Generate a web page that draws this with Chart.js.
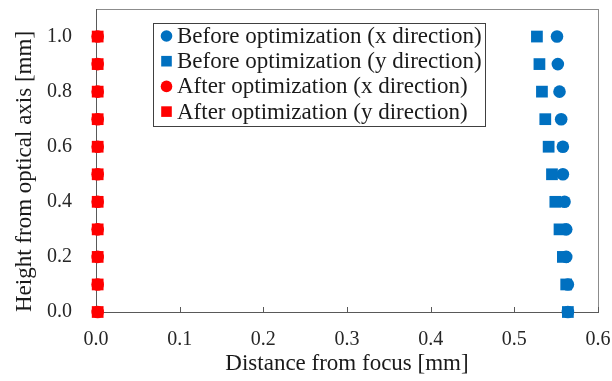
<!DOCTYPE html>
<html><head><meta charset="utf-8">
<script src="https://cdn.jsdelivr.net/npm/chart.js@4/dist/chart.umd.min.js"></script>
<style>html,body{margin:0;padding:0;background:#fff}#wrap{width:612px;height:381px}</style>
</head><body><div id="wrap"><canvas id="c" width="612" height="381"></canvas></div>
<script>
const heights = [0.0,0.1,0.2,0.3,0.4,0.5,0.6,0.7,0.8,0.9,1.0];
const beforeX = [0.564,0.564,0.562,0.562,0.560,0.558,0.558,0.556,0.554,0.552,0.551];
const beforeY = [0.564,0.562,0.558,0.554,0.549,0.545,0.541,0.537,0.533,0.530,0.527];
const afterX  = [0.002,0.002,0.002,0.002,0.002,0.002,0.002,0.002,0.002,0.002,0.002];
const afterY  = [0.002,0.002,0.002,0.002,0.002,0.002,0.002,0.002,0.002,0.002,0.002];
const xTicks = [0.0,0.1,0.2,0.3,0.4,0.5,0.6];
const yTicks = [0.0,0.2,0.4,0.6,0.8,1.0];
const seriesLabels = ['Before optimization (x direction)','Before optimization (y direction)','After optimization (x direction)','After optimization (y direction)'];
const seriesColors = ['#0070C0','#0070C0','#FF0000','#FF0000'];
const seriesStyles = ['circle','rect','circle','rect'];
const xTitle = 'Distance from focus [mm]';
const yTitle = 'Height from optical axis [mm]';

const FONT = "'Liberation Serif','Times New Roman',serif";
const pts = (xs) => xs.map((x,i)=>({x:x,y:heights[i]}));
const allSeries = [beforeX,beforeY,afterX,afterY];
const radii = {circle:6.3, rect:8.3};

const datasets = allSeries.map((s,i)=>({
  label: seriesLabels[i],
  data: pts(s),
  pointStyle: seriesStyles[i],
  pointRadius: radii[seriesStyles[i]],
  backgroundColor: seriesColors[i],
  borderColor: seriesColors[i],
  pointBorderWidth: 0,
  showLine: false,
  clip: false,
  order: 4-i
}));

const framePlugin = {
  id:'plotFrame',
  beforeDraw(chart){ },
  beforeDatasetsDraw(chart){
    const ctx = chart.ctx;
    try {
      const a = chart.chartArea, sx = chart.scales.x;
      const L = Math.round(a.left), R = Math.round(a.right), T = Math.round(a.top), B = Math.round(a.bottom);
      ctx.save();
      ctx.fillStyle = '#8c8c8c';
      ctx.fillRect(L, T, R-L+1, 1);
      ctx.fillRect(R, T, 1, B-T+1);
      ctx.fillStyle = '#595959';
      ctx.fillRect(L, T, 1, B-T+1);
      ctx.fillRect(L, B, R-L+1, 1);
      xTicks.forEach(v=>{
        const px = Math.round(sx.getPixelForValue(v));
        ctx.fillRect(px, B-5, 1, 5);
      });
      ctx.restore();
    } catch(e){}
  },
  afterDatasetsDraw(chart){ },
  afterDraw(chart){
    const ctx = chart.ctx;
    try {
      const L=153, T=23, R=485, B=126;
      ctx.save();
      ctx.fillStyle='#ffffff';
      ctx.fillRect(L+1,T+1,R-L-1,B-T-1);
      ctx.fillStyle='#404040';
      ctx.fillRect(L,T,R-L+1,1); ctx.fillRect(L,B,R-L+1,1);
      ctx.fillRect(L,T,1,B-T+1); ctx.fillRect(R,T,1,B-T+1);
      chart.data.datasets.forEach((d,i)=>{
        const y = 36 + 25.2*i;
        ctx.fillStyle = d.backgroundColor;
        ctx.strokeStyle = d.backgroundColor;
        Chart.helpers.drawPoint(ctx,{pointStyle:d.pointStyle, radius: d.pointStyle==='rect'?7.5:5.8, rotation:0, borderWidth:0}, 166.5, y);
        ctx.fillStyle='#1a1a1a';
        ctx.font = "23px " + FONT;
        ctx.textBaseline='middle';
        ctx.textAlign='left';
        ctx.fillText(d.label, 177, y+1);
      });
      ctx.restore();
    } catch(e){}
  }
};

new Chart(document.getElementById('c'), {
  type:'scatter',
  data:{datasets},
  plugins:[framePlugin],
  options:{
    responsive:false,
    animation:false,
    events:[],
    layout:{padding:{top:9,right:14,left:0,bottom:0}},
    plugins:{legend:{display:false}, tooltip:{enabled:false}},
    scales:{
      x:{
        type:'linear', min:0, max:0.6,
        afterBuildTicks(s){ s.ticks = xTicks.map(v=>({value:v})); },
        afterFit(s){ s.height = 69; s.paddingLeft = 0; s.paddingRight = 0; },
        grid:{display:false}, border:{display:false},
        ticks:{font:{family:FONT,size:20}, color:'#262626', padding:8, maxRotation:0, callback:v=>Number(v).toFixed(1)},
        title:{display:true, text:xTitle, font:{family:FONT,size:23}, color:'#1a1a1a', padding:{top:0,bottom:3}}
      },
      y:{
        type:'linear', min:0, max:1.1,
        afterBuildTicks(s){ s.ticks = yTicks.map(v=>({value:v})); },
        afterFit(s){ s.width = 96; s.paddingTop = 0; s.paddingBottom = 0; },
        grid:{display:false}, border:{display:false},
        ticks:{font:{family:FONT,size:20}, color:'#262626', padding:16, callback:v=>Number(v).toFixed(1)},
        title:{display:true, text:yTitle, align:'start', font:{family:FONT,size:23}, color:'#1a1a1a', padding:{top:11,bottom:0}}
      }
    }
  }
});
</script></body></html>
